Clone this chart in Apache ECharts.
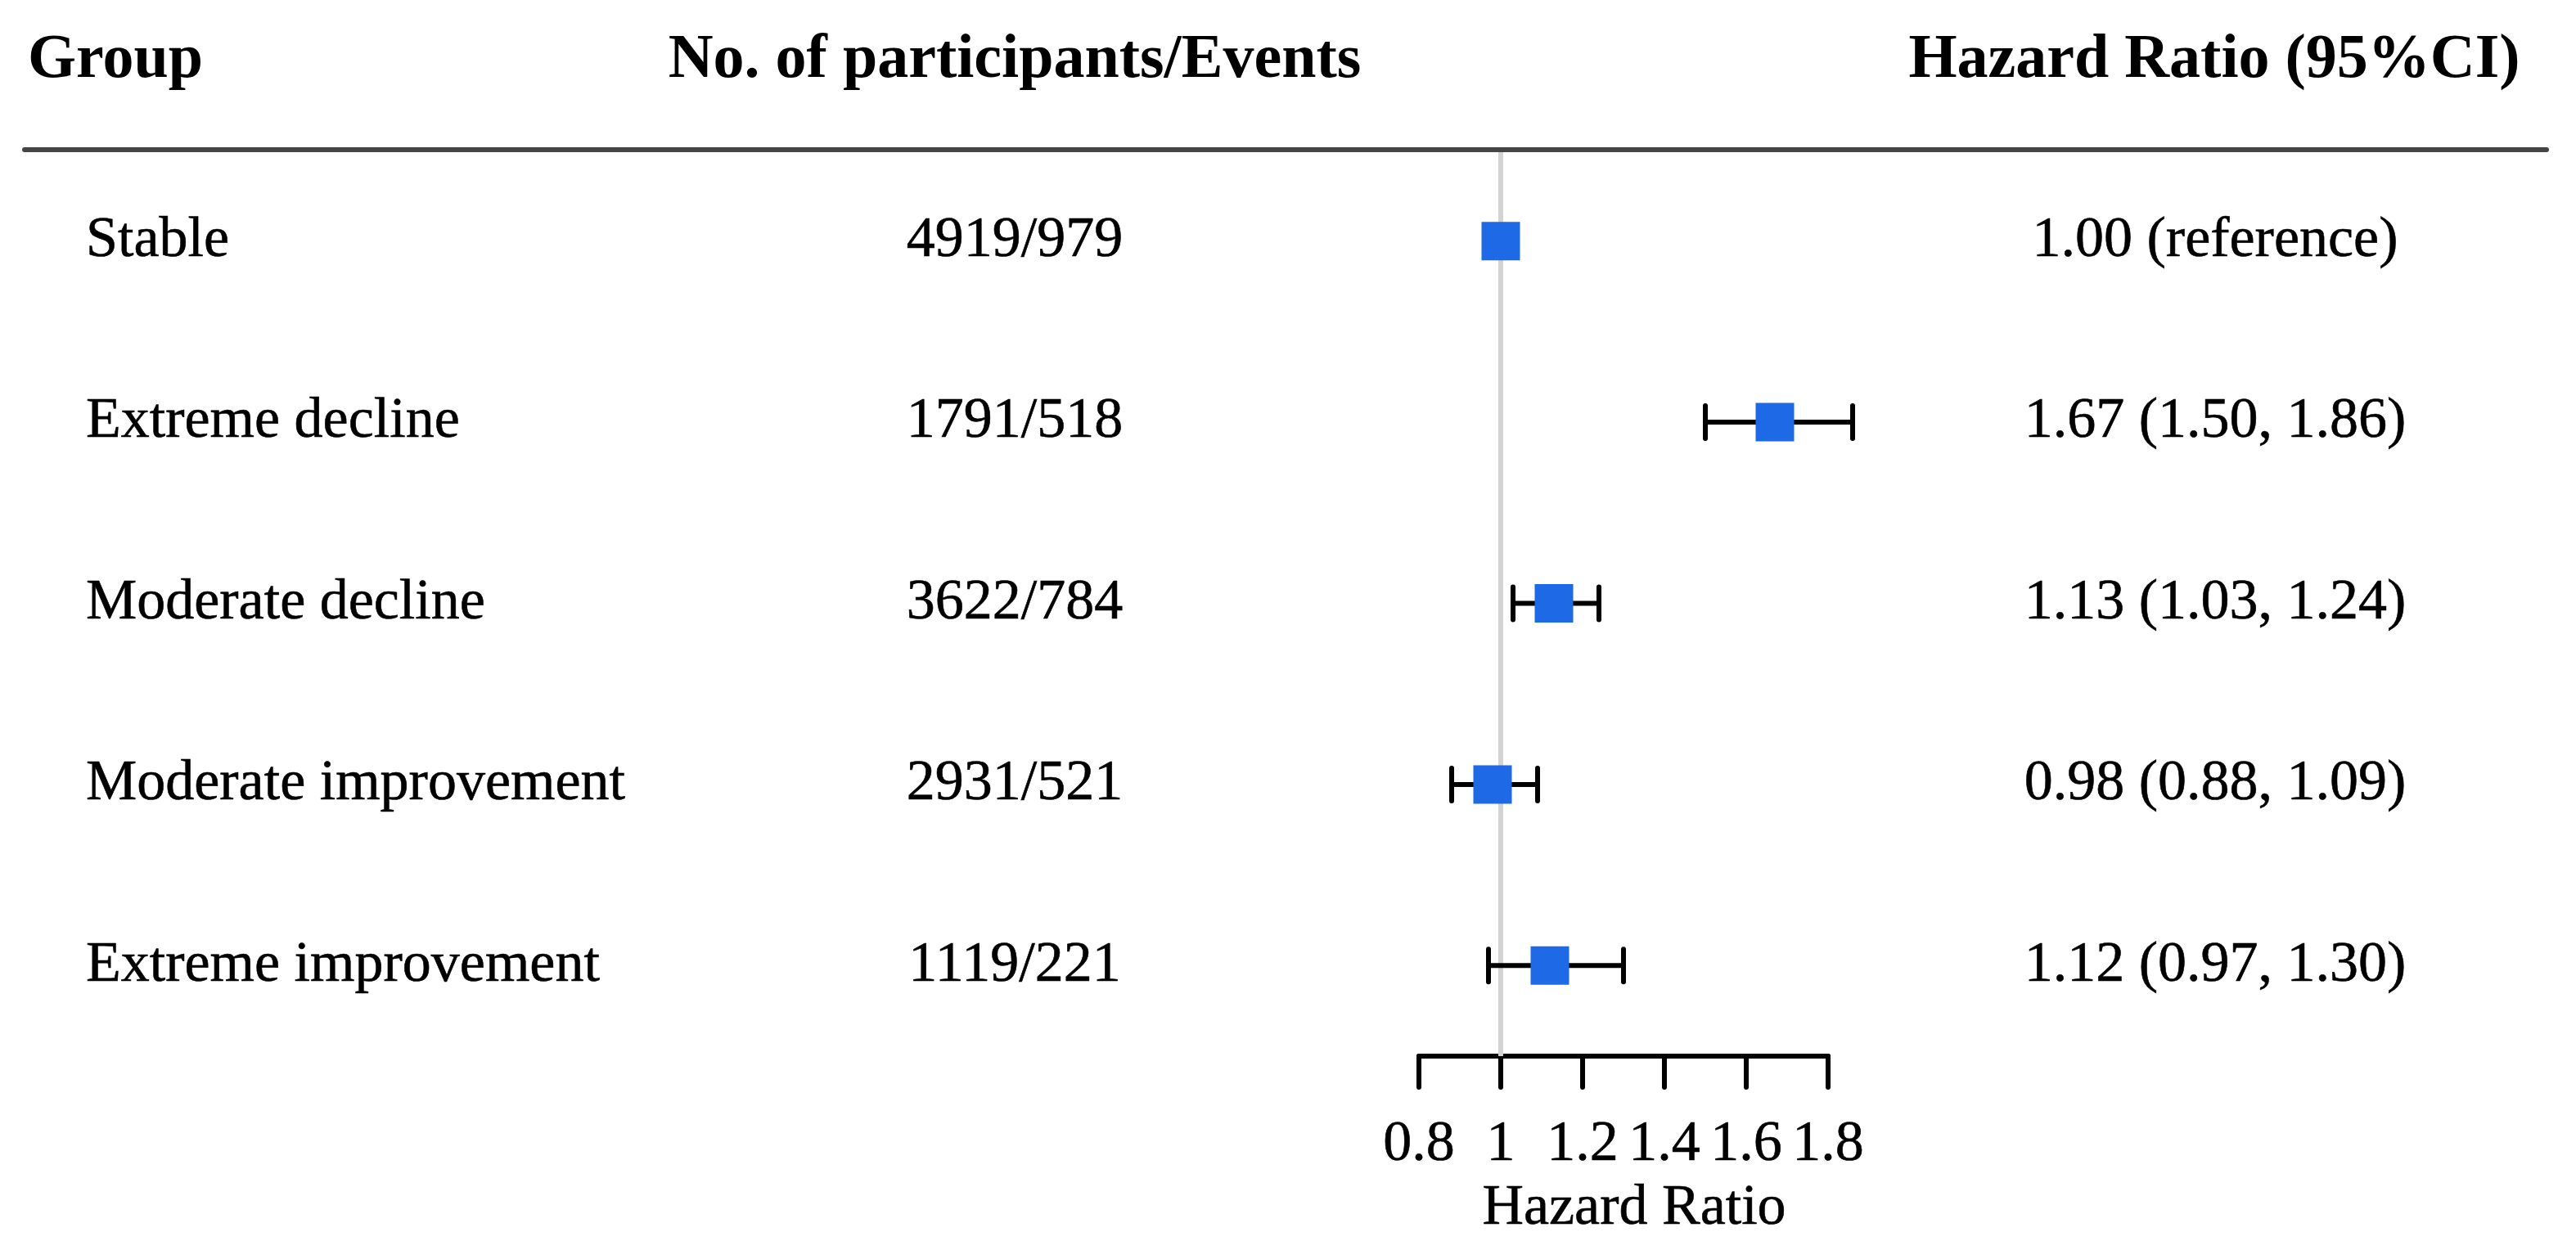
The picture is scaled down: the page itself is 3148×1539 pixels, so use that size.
<!DOCTYPE html>
<html>
<head>
<meta charset="utf-8">
<script src="https://cdn.jsdelivr.net/npm/echarts@6/dist/echarts.min.js"></script>
<style>
html,body{margin:0;padding:0;background:#fff;}
#chart{width:3148px;height:1539px;}
</style>
</head>
<body>
<div id="chart"></div>
<script>
// ---- data ----
const groups = ['Stable', 'Extreme decline', 'Moderate decline', 'Moderate improvement', 'Extreme improvement'];
const counts = ['4919/979', '1791/518', '3622/784', '2931/521', '1119/221'];
const hr = [1.00, 1.67, 1.13, 0.98, 1.12];
const lower = [null, 1.50, 1.03, 0.88, 0.97];
const upper = [null, 1.86, 1.24, 1.09, 1.30];
const hrText = ['1.00 (reference)', '1.67 (1.50, 1.86)', '1.13 (1.03, 1.24)', '0.98 (0.88, 1.09)', '1.12 (0.97, 1.30)'];
const headers = ['Group', 'No. of participants/Events', 'Hazard Ratio (95%CI)'];
const xMin = 0.8, xMax = 1.8, xStep = 0.2;
const refValue = 1;
const xName = 'Hazard Ratio';

// ---- styles ----
const FONT = "'Liberation Serif', 'Times New Roman', Times, serif";
const BODY = 70;
const HEAD = 76;
const BLUE = '#1e69e6';
const TXT = {fontFamily: FONT, fontSize: BODY, color: '#000', textBorderColor: '#000', textBorderWidth: 0.6};

const gridLeft = 1734, gridWidth = 500, gridTop = 184, gridHeight = 1107;

const chart = echarts.init(document.getElementById('chart'), null, {renderer: 'canvas'});

const ciData = groups.map((g, i) => [i, lower[i], upper[i]]).filter(d => d[1] != null);
const ptData = groups.map((g, i) => [hr[i], i]);

const catAxis = (extra) => Object.assign({
  type: 'category',
  data: groups,
  inverse: true,
  gridIndex: 0,
  axisLine: {show: false},
  axisTick: {show: false},
  splitLine: {show: false}
}, extra);

const option = {
  backgroundColor: '#fff',
  animation: false,
  textStyle: {fontFamily: FONT},
  grid: {left: gridLeft, top: gridTop, width: gridWidth, height: gridHeight, containLabel: false},
  xAxis: {
    type: 'value',
    min: xMin, max: xMax, interval: xStep,
    name: xName,
    nameLocation: 'middle',
    nameGap: 152,
    nameTextStyle: Object.assign({}, TXT, {padding: [0, 0, 0, 26]}),
    axisLine: {show: true, lineStyle: {color: '#000', width: 6, cap: 'round'}},
    axisTick: {show: true, length: 38, lineStyle: {color: '#000', width: 6, cap: 'round'}},
    axisLabel: Object.assign({}, TXT, {margin: 74, hideOverlap: false,
      formatter: v => (Math.abs(v - Math.round(v)) < 1e-9 ? String(Math.round(v)) : v.toFixed(1))}),
    splitLine: {show: false}
  },
  yAxis: [
    catAxis({
      position: 'left',
      axisLabel: Object.assign({}, TXT, {align: 'left', margin: gridLeft - 105, padding: [10, 0, 0, 0]})
    }),
    catAxis({
      position: 'left',
      axisLabel: Object.assign({}, TXT, {align: 'center', margin: gridLeft - 1240, padding: [10, 0, 0, 0],
        formatter: (v, i) => counts[i]})
    }),
    catAxis({
      position: 'right',
      axisLabel: Object.assign({}, TXT, {align: 'center', margin: 2707 - (gridLeft + gridWidth), padding: [10, 0, 0, 0],
        formatter: (v, i) => hrText[i]})
    })
  ],
  graphic: [
    {type: 'text', x: 34, y: 74, style: {text: headers[0], font: `bold ${HEAD}px ${FONT}`, fill: '#000', align: 'left', verticalAlign: 'middle'}},
    {type: 'text', x: 1240, y: 74, style: {text: headers[1], font: `bold ${HEAD}px ${FONT}`, fill: '#000', align: 'center', verticalAlign: 'middle'}},
    {type: 'text', x: 2706, y: 74, style: {text: headers[2], font: `bold ${HEAD}px ${FONT}`, fill: '#000', align: 'center', verticalAlign: 'middle'}},
    {type: 'line', shape: {x1: 30, y1: 183, x2: 3112, y2: 183}, style: {stroke: '#444', lineWidth: 6, lineCap: 'round'}, z: 10}
  ],
  series: [
    {
      type: 'line', data: [], z: 1, silent: true,
      markLine: {
        silent: true, symbol: 'none', label: {show: false}, z: 1,
        lineStyle: {color: '#d3d3d3', width: 6, type: 'solid'},
        data: [{xAxis: refValue}]
      }
    },
    {
      type: 'custom', z: 6, silent: true,
      data: ciData,
      encode: {x: [1, 2], y: 0},
      renderItem: function (params, api) {
        const p1 = api.coord([api.value(1), api.value(0)]);
        const p2 = api.coord([api.value(2), api.value(0)]);
        const y = p1[1], x1 = p1[0], x2 = p2[0];
        const h = 20;
        const st = {stroke: '#000', lineWidth: 6, lineCap: 'round'};
        return {
          type: 'group',
          children: [
            {type: 'line', shape: {x1: x1, y1: y, x2: x2, y2: y}, style: st},
            {type: 'line', shape: {x1: x1, y1: y - h, x2: x1, y2: y + h}, style: st},
            {type: 'line', shape: {x1: x2, y1: y - h, x2: x2, y2: y + h}, style: st}
          ]
        };
      }
    },
    {
      type: 'scatter', z: 8, silent: true,
      symbol: 'rect', symbolSize: [47, 47],
      itemStyle: {color: BLUE, opacity: 1},
      data: ptData
    }
  ]
};
chart.setOption(option);
</script>
</body>
</html>
